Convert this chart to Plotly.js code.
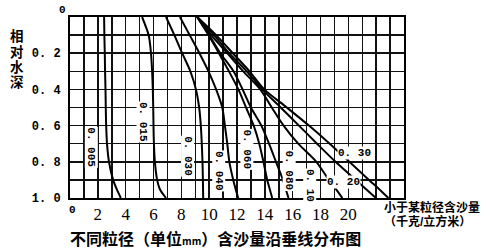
<!DOCTYPE html>
<html><head><meta charset="utf-8">
<script src="https://cdn.plot.ly/plotly-3.0.1.min.js"></script>
<style>html,body{margin:0;padding:0;background:#fff}#chart{width:490px;height:252px}</style>
</head><body><div id="chart"></div>
<script>
// relative depth (0 = surface, 1 = bed)
const depth = [0, 0.1, 0.2, 0.3, 0.4, 0.5, 0.6, 0.7, 0.8, 0.9, 0.95, 1.0];
// sediment concentration finer than given grain size (kg/m3)
const grainSizes = ['0.005','0.015','0.030','0.040','0.060','0.080','0.10','0.20','0.30'];
const c005 = [2.45, 2.47, 2.5, 2.52, 2.55, 2.57, 2.6, 2.66, 2.8, 3.1, 3.35, 3.65];
const c015 = [5.18, 5.65, 5.82, 5.9, 5.95, 5.98, 6.0, 6.03, 6.1, 6.26, 6.45, 6.9];
const c030 = [6.9, 7.5, 8.06, 8.65, 9.05, 9.28, 9.4, 9.47, 9.52, 9.55, 9.56, 9.57];
const c040 = [7.9, 8.6, 9.3, 9.95, 10.5, 10.94, 11.13, 11.3, 11.45, 11.73, 11.9, 12.09];
const c060 = [9.14, 9.95, 10.7, 11.42, 12.1, 12.65, 13.2, 13.6, 13.9, 14.17, 14.35, 14.53];
const c080 = [9.14, 10.0, 10.8, 11.75, 12.4, 13.0, 13.75, 14.3, 14.8, 15.3, 15.5, 15.7];
const c10  = [9.14, 10.15, 11.3, 12.45, 13.67, 14.5, 15.35, 16.4, 17.7, 18.6, 19.1, 19.57];
const c20  = [9.14, 10.35, 11.44, 12.7, 13.81, 15.14, 16.45, 17.75, 19.08, 20.53, 21.26, 21.98];
const c30  = [9.14, 10.5, 11.7, 12.9, 13.96, 15.58, 17.17, 18.66, 20.07, 21.48, 22.2, 22.88];
const series = [c005, c015, c030, c040, c060, c080, c10, c20, c30];
// label anchor points (x in kg/m3, y relative depth) and orientation
const labelX = [1.51, 5.25, 8.42, 10.7, 12.7, 15.76, 17.2, 19.64, 20.43];
const labelY = [0.72, 0.58, 0.77, 0.85, 0.73, 0.85, 0.93, 0.91, 0.75];
const labelAngle = [90, 90, 90, 90, 90, 90, 90, 0, 0];
const xTickVals = [2, 4, 6, 8, 10, 12, 14, 16, 18, 20];
const yTickVals = [0, 0.2, 0.4, 0.6, 0.8, 1.0];
const yTickText = ['', '0. 2', '0. 4', '0. 6', '0. 8', '1. 0'];
const yTitleChars = ['相', '对', '水', '深'];
const unitLines = ['小于某粒径含沙量', '（千克/立方米）'];

const traces = series.map((s, i) => ({
  x: s, y: depth, type: 'scatter', mode: 'lines', name: grainSizes[i],
  line: {color: '#000', width: 2, shape: 'spline', smoothing: 0.8},
  hoverinfo: 'skip', showlegend: false
}));

const labFont = {family: 'Liberation Mono, DejaVu Sans Mono, monospace', size: 11, color: '#000'};
const annotations = grainSizes.map((g, i) => ({
  x: labelX[i], y: labelY[i], xref: 'x', yref: 'y', text: '<b>' + g.replace('.', '. ') + '</b>',
  showarrow: false, textangle: labelAngle[i], font: labFont, bgcolor: '#fff', borderpad: 0
}));
const cjk = 'Noto Sans CJK SC, sans-serif';
const cjkTight = 'Liberation Sans, Noto Sans CJK SC, sans-serif';
yTitleChars.forEach((ch, i) => annotations.push({
  xref: 'paper', yref: 'paper', x: -0.16, y: 1, yshift: -(19.5 + i * 15.3),
  text: '<b>' + ch + '</b>', showarrow: false, xanchor: 'center', yanchor: 'middle', borderpad: 0,
  font: {family: cjkTight, size: 13.5, color: '#000'}
}));
unitLines.forEach((t, i) => annotations.push({
  xref: 'paper', yref: 'paper', x: 1.0, xshift: -21, y: 0, yshift: -(9.5 + i * 13.5),
  text: '<b>' + t + '</b>', showarrow: false, xanchor: 'left', yanchor: 'middle', borderpad: 0,
  font: {family: cjkTight, size: 12, color: '#000'}
}));
annotations.push(
  {xref: 'paper', yref: 'paper', x: -0.005, y: 1.0, yshift: 7, text: '<b>0</b>', showarrow: false, xanchor: 'right', yanchor: 'middle', font: {family: 'Liberation Mono, monospace', size: 11, color: '#000'}},
  {xref: 'paper', yref: 'paper', x: 0.006, y: 0, yshift: -12, text: '<b>0</b>', showarrow: false, xanchor: 'center', yanchor: 'middle', font: {family: 'Liberation Mono, monospace', size: 11, color: '#000'}},
  {xref: 'paper', yref: 'paper', x: 0.437, y: 0, yshift: -40, text: '<b>不同粒径（单位<span style="font-size:10px">mm</span>）含沙量沿垂线分布图</b>', showarrow: false, xanchor: 'center', yanchor: 'middle', font: {family: cjk, size: 16, color: '#000'}}
);

const layout = {
  width: 490, height: 252,
  margin: {l: 70, r: 86, t: 17, b: 54, pad: 0},
  paper_bgcolor: '#fff', plot_bgcolor: '#fff',
  showlegend: false,
  xaxis: {range: [0, 24], showgrid: true, gridcolor: '#111', gridwidth: 1.5,
    showline: true, linecolor: '#000', linewidth: 2, mirror: true, zeroline: false,
    tickmode: 'array', tickvals: xTickVals, ticks: '',
    tickfont: {family: 'Liberation Serif, serif', size: 17, color: '#000'},
    minor: {dtick: 1, showgrid: true, gridcolor: '#111', gridwidth: 1.5, ticks: ''}},
  yaxis: {range: [1.0, 0], showgrid: true, gridcolor: '#111', gridwidth: 1.5,
    showline: true, linecolor: '#000', linewidth: 2, mirror: true, zeroline: false,
    tickmode: 'array', tickvals: yTickVals, ticktext: yTickText, ticks: '', ticklabelstandoff: 5,
    tickfont: {family: 'Liberation Mono, monospace', size: 12, color: '#000', weight: 'bold'},
    minor: {dtick: 0.1, showgrid: true, gridcolor: '#111', gridwidth: 1.5, ticks: ''}},
  annotations: annotations
};
Plotly.newPlot('chart', traces, layout, {staticPlot: true, displayModeBar: false});
</script></body></html>
